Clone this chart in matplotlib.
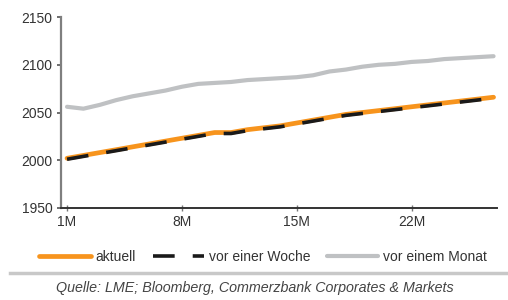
import numpy as np
import matplotlib
matplotlib.use('Agg')
import matplotlib.pyplot as plt

plt.rcParams['font.family'] = ['Liberation Sans', 'DejaVu Sans']

# Laufzeit in Monaten (1M .. 27M)
months = list(range(1, 28))
aktuell = [2002, 2005, 2008, 2011, 2014, 2017, 2020, 2023, 2026, 2029,
           2029, 2032, 2034, 2036, 2039, 2042, 2045, 2048, 2050, 2052,
           2054, 2056, 2058, 2060, 2062, 2064, 2066]
vor_woche = [2001, 2004, 2007, 2010, 2013, 2016, 2019, 2022, 2025, 2028,
             2028, 2031, 2033, 2035, 2038, 2041, 2044, 2047, 2049, 2051,
             2053, 2055, 2057, 2059, 2061, 2063, 2065]
vor_monat = [2056, 2054, 2058, 2063, 2067, 2070, 2073, 2077, 2080, 2081,
             2082, 2084, 2085, 2086, 2087, 2089, 2093, 2095, 2098, 2100,
             2101, 2103, 2104, 2106, 2107, 2108, 2109]
xtick_pos = [1, 8, 15, 22]
xtick_labels = ['1M', '8M', '15M', '22M']
yticks = [1950, 2000, 2050, 2100, 2150]

fig = plt.figure(figsize=(5.08, 3.0), dpi=100)
ax = fig.add_axes([0.12, 0.307, 0.858, 0.636])

orange = '#F7941D'
grey = '#BFC1C3'
ax.plot(months, vor_monat, color=grey, lw=3.0, solid_capstyle='round', label='vor einem Monat')
ax.plot(months, aktuell, color=orange, lw=3.4, solid_capstyle='round', label='aktuell')
ax.plot(months, vor_woche, color='#1a1a1a', lw=2.6, dashes=(6, 5), label='vor einer Woche')

ax.set_xlim(0.63, 27.2)
ax.set_ylim(1950, 2150)
ax.set_yticks(yticks)
ax.set_xticks(xtick_pos)
ax.set_xticklabels(xtick_labels)
for s in ['top', 'right']:
    ax.spines[s].set_visible(False)
ax.spines['left'].set_color('#7f7f7f')
ax.spines['left'].set_linewidth(1.6)
ax.spines['bottom'].set_color('#333333')
ax.spines['bottom'].set_linewidth(1.4)
ax.tick_params(axis='y', direction='out', length=3, width=1.2, color='#555555',
               labelsize=10, labelcolor='#333333', pad=3)
ax.tick_params(axis='x', direction='inout', length=4, width=1.0, color='#777777',
               labelsize=10, labelcolor='#333333', pad=3)

handles, labels = ax.get_legend_handles_labels()
order = [1, 2, 0]
fig.legend([handles[i] for i in order], [labels[i] for i in order],
           loc='center', bbox_to_anchor=(0.518, 1 - 257 / 300), ncol=3, frameon=False,
           handlelength=3.7, columnspacing=1.2, handletextpad=0.35,
           prop={'size': 10}, labelcolor='#333333')

# Trennlinie und Quelle
fig.add_artist(plt.Line2D([0.02, 1.0], [1 - 273 / 300] * 2, color='#c8c8c8', lw=2.5,
                          transform=fig.transFigure))
fig.text(0.502, 1 - 288 / 300, 'Quelle: LME; Bloomberg, Commerzbank Corporates & Markets',
         ha='center', va='center', fontsize=10.3, style='italic', color='#444444')

fig.savefig('out.png', dpi=100)
